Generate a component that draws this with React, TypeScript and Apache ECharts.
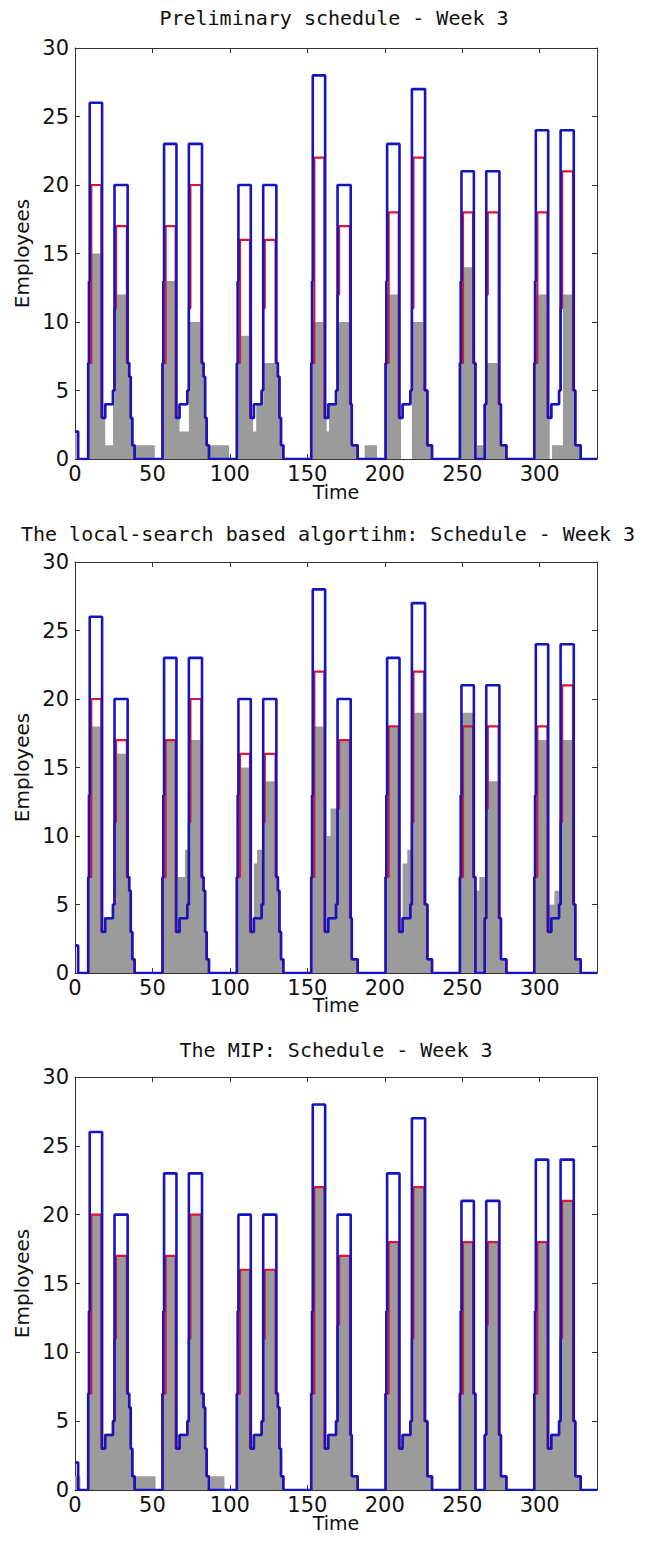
import React, { useEffect, useRef } from "react";
import * as echarts from "echarts";

const T_MAX = 337;
const Y_MAX = 30;
const panelTitles = [
  "Preliminary schedule - Week 3",
  "The local-search based algortihm: Schedule - Week 3",
  "The MIP: Schedule - Week 3",
];
const xName = "Time";
const yName = "Employees";

// step breakpoints [time, value]; value holds until next breakpoint
const upperBound: number[][] = [
  [0, 2], [2, 0],
  [8.5, 7], [9, 13], [9.5, 26], [17.5, 3], [19.5, 4], [24.5, 5], [25.5, 20], [34, 7], [35, 6], [36, 3], [37, 1], [38.5, 0],
  [56.5, 7], [57, 13], [57.5, 23], [65.5, 3], [67.5, 4], [72.5, 5], [73.5, 23], [82, 7], [83, 6], [84, 3], [85, 1], [86.5, 0],
  [104.5, 7], [105, 13], [105.5, 20], [113.5, 3], [115.5, 4], [120.5, 5], [121.5, 20], [130, 7], [131, 6], [132, 3], [133, 1], [134.5, 0],
  [152.5, 7], [153, 13], [153.5, 28], [161.5, 3], [163.5, 4], [168.5, 5], [169.5, 20], [178, 4], [178.7, 1], [182.5, 0],
  [200.5, 7], [201, 13], [201.5, 23], [209.5, 3], [211.5, 4], [216.5, 5], [217.5, 27], [226, 5], [227.5, 1], [230.5, 0],
  [248.5, 7], [249, 13], [249.5, 21], [257.5, 7], [258.5, 0], [264.5, 4], [265.5, 21], [274, 4], [275, 1], [278.5, 0],
  [296.5, 7], [297, 13], [297.5, 24], [305.5, 3], [307.5, 4], [312.5, 5], [313.5, 24], [322, 5], [323, 1], [326.5, 0],
];

const demand: number[][] = [
  [0, 2], [2, 0],
  [8.5, 7], [10.5, 20], [17, 3], [19.5, 4], [24.5, 5], [25.5, 11], [26.5, 17], [33.5, 7], [35, 6], [36, 3], [37, 1], [38.5, 0],
  [56.5, 7], [58.5, 17], [65, 3], [67.5, 4], [72.5, 5], [73.5, 11], [74.5, 20], [81.5, 7], [83, 6], [84, 3], [85, 1], [86.5, 0],
  [104.5, 7], [106.5, 16], [113, 3], [115.5, 4], [120.5, 5], [121.5, 11], [122.5, 16], [129.5, 7], [131, 6], [132, 3], [133, 1], [134.5, 0],
  [152.5, 7], [154.5, 22], [161, 3], [163.5, 4], [168.5, 5], [169.5, 12], [170.5, 17], [177.5, 4], [178.7, 1], [182.5, 0],
  [200.5, 7], [202.5, 18], [209, 3], [211.5, 4], [216.5, 5], [217.5, 11], [218.5, 22], [225.5, 5], [227.5, 1], [230.5, 0],
  [248.5, 7], [250.5, 18], [257, 7], [258.5, 0], [264.5, 4], [265.5, 12], [266.5, 18], [273.5, 4], [275, 1], [278.5, 0],
  [296.5, 7], [298.5, 18], [305, 3], [307.5, 4], [312.5, 5], [313.5, 11], [314.5, 21], [321.5, 5], [323, 1], [326.5, 0],
];

const staffPreliminary: number[][] = [
  [0, 2], [1, 0],
  [8.5, 7], [9, 13], [9.5, 15], [17.5, 3], [19.5, 1], [24.5, 4], [25.5, 12], [34, 7], [35, 6], [36, 3], [37, 1], [51.5, 0],
  [56.5, 7], [57, 13], [65.5, 3], [67.5, 2], [73.5, 10], [82, 7], [83, 6], [84, 3], [85, 1], [99.5, 0],
  [104.5, 7], [105, 12], [105.5, 9], [113.5, 3], [115, 2], [117, 4], [121.5, 7], [131, 6], [132, 3], [133, 1], [134.5, 0],
  [152.5, 7], [153, 13], [153.5, 10], [161.5, 3], [162.5, 2], [164, 4], [169.5, 10], [178, 4], [178.7, 1], [182.5, 0], [187, 1], [195, 0],
  [200.5, 7], [201, 12], [209.5, 3], [210.5, 0], [217.5, 10], [226, 5], [227.5, 1], [230.5, 0],
  [248.5, 7], [249, 13], [249.5, 14], [257.5, 7], [258.5, 0], [259.5, 1], [263.8, 0], [264.5, 4], [265.5, 7], [274, 4], [275, 1], [278.5, 0],
  [296.5, 7], [297, 12], [305.5, 3], [306.5, 0], [308, 1], [315, 12], [322, 5], [323, 1], [326.5, 0],
];

const staffLocalSearch: number[][] = [
  [0, 0],
  [8.5, 7], [9, 13], [9.5, 18], [17.5, 3], [19.5, 4], [24.5, 5], [25.5, 16], [34, 7], [35, 6], [36, 3], [37, 1], [38.5, 0],
  [56.5, 7], [57, 13], [57.5, 17], [65.5, 3], [66.5, 7], [71, 9], [73.5, 17], [82, 7], [83, 6], [84, 3], [85, 1], [86.5, 0],
  [104.5, 7], [105, 13], [105.5, 15], [113.5, 3], [115.5, 8], [117.5, 9], [121.5, 14], [130, 7], [131, 6], [132, 3], [133, 1], [134.5, 0],
  [152.5, 7], [153, 13], [153.5, 18], [161.5, 3], [162.5, 10], [165, 12], [169.5, 17], [178, 4], [178.7, 1], [182.5, 0],
  [200.5, 7], [201, 13], [201.5, 18], [209.5, 3], [211.5, 8], [214.5, 9], [217.5, 19], [226, 5], [227.5, 1], [230.5, 0],
  [248.5, 7], [249, 13], [249.5, 19], [257.5, 7], [258, 6], [261, 7], [265.5, 14], [274, 4], [275, 1], [278.5, 0],
  [296.5, 7], [297, 13], [297.5, 17], [305.5, 3], [306, 5], [309.5, 6], [313.5, 17], [322, 5], [323, 1], [326.5, 0],
];

const staffMIP: number[][] = [
  [0, 1], [3.5, 0],
  [8.5, 7], [9, 13], [10, 20], [17.5, 3], [19.5, 4], [24.5, 5], [25.5, 11], [26.5, 17], [34, 7], [35, 6], [36, 3], [37, 1], [52, 0],
  [56.5, 7], [57, 13], [58, 17], [65.5, 3], [67.5, 4], [72.5, 5], [73.5, 11], [74.5, 20], [82, 7], [83, 6], [84, 3], [85, 1], [86.5, 0], [87.5, 1], [96.5, 0],
  [104.5, 7], [105, 13], [106, 16], [113.5, 3], [115.5, 4], [120.5, 5], [121.5, 11], [122.5, 16], [130, 7], [131, 6], [132, 3], [133, 1], [134.5, 0],
  [152.5, 7], [153, 13], [154, 22], [161.5, 3], [163.5, 4], [168.5, 5], [169.5, 12], [170.5, 17], [178, 4], [178.7, 1], [182.5, 0],
  [200.5, 7], [201, 13], [202, 18], [209.5, 3], [211.5, 4], [216.5, 5], [217.5, 11], [218.5, 22], [226, 5], [227.5, 1], [230.5, 0],
  [248.5, 7], [249, 13], [250, 18], [257.5, 7], [258.5, 0], [264.5, 4], [265.5, 12], [266.5, 18], [274, 4], [275, 1], [278.5, 0],
  [296.5, 7], [297, 13], [298, 18], [305.5, 3], [307.5, 4], [312.5, 5], [313.5, 11], [314.5, 21], [322, 5], [323, 1], [326.5, 0],
];

const staffSets = [staffPreliminary, staffLocalSearch, staffMIP];

function toSteps(bps: number[][]): number[][] {
  const pts: number[][] = [];
  for (let i = 0; i < bps.length; i++) {
    const t = bps[i][0];
    const v = bps[i][1];
    const tNext = i + 1 < bps.length ? bps[i + 1][0] : T_MAX;
    pts.push([t, v], [tNext, v]);
  }
  return pts;
}

const GRIDS = [
  { top: 48, height: 411, titleY: 18, titleX: 334, nameY: 492 },
  { top: 562, height: 411, titleY: 534, titleX: 328, nameY: 1005 },
  { top: 1077, height: 413, titleY: 1050, titleX: 336, nameY: 1523 },
];
const LEFT = 75;
const WIDTH = 522;

export default function App() {
  const ref = useRef<HTMLDivElement>(null);
  useEffect(() => {
    if (!ref.current) return;
    const chart = echarts.init(ref.current, undefined, { renderer: "svg" });
    const axisColor = "#333";
    const grid: any[] = [];
    const xAxis: any[] = [];
    const yAxis: any[] = [];
    const series: any[] = [];
    const graphic: any[] = [];
    GRIDS.forEach((g, i) => {
      grid.push({ left: LEFT, top: g.top, width: WIDTH, height: g.height, containLabel: false });
      const common = {
        gridIndex: i,
        type: "value",
        splitLine: { show: false },
        axisLine: { show: true, onZero: false, lineStyle: { color: axisColor, width: 1 } },
        axisTick: { show: true, inside: true, length: 5, lineStyle: { color: axisColor } },
      };
      xAxis.push({
        ...common,
        position: "bottom",
        min: 0,
        max: T_MAX,
        interval: 50,
        axisLabel: {
          show: true,
          fontSize: 21,
          fontFamily: "DejaVu Sans",
          color: "#111",
          margin: 4,
          showMaxLabel: false,
          formatter: (v: number) => (v % 50 === 0 ? String(v) : ""),
        },
      });
      xAxis.push({
        ...common,
        position: "top",
        min: 0,
        max: T_MAX,
        interval: 50,
        axisLabel: { show: false },
      });
      yAxis.push({
        ...common,
        position: "left",
        min: 0,
        max: Y_MAX,
        interval: 5,
        axisLabel: { show: true, fontSize: 21, fontFamily: "DejaVu Sans", color: "#111", margin: 6 },
      });
      yAxis.push({
        ...common,
        position: "right",
        min: 0,
        max: Y_MAX,
        interval: 5,
        axisLabel: { show: false },
      });
      const xi = i * 2;
      const yi = i * 2;
      series.push({
        type: "line",
        xAxisIndex: xi,
        yAxisIndex: yi,
        data: toSteps(staffSets[i]),
        showSymbol: false,
        lineStyle: { width: 0 },
        areaStyle: { color: "#9b9b9b", opacity: 1 },
        z: 2,
      });
      series.push({
        type: "line",
        xAxisIndex: xi,
        yAxisIndex: yi,
        data: toSteps(demand),
        showSymbol: false,
        lineStyle: { width: 2.2, color: "#e0142c" },
        itemStyle: { color: "#e0142c" },
        z: 3,
      });
      series.push({
        type: "line",
        xAxisIndex: xi,
        yAxisIndex: yi,
        data: toSteps(upperBound),
        showSymbol: false,
        lineStyle: { width: 2.6, color: "#1414c0" },
        itemStyle: { color: "#1414c0" },
        z: 4,
      });
      graphic.push({
        type: "text",
        x: g.titleX,
        y: g.titleY,
        style: {
          text: panelTitles[i],
          font: '20px "DejaVu Sans Mono"',
          fill: "#111",
          textAlign: "center",
          textVerticalAlign: "middle",
        },
      });
      graphic.push({
        type: "text",
        x: LEFT + WIDTH / 2,
        y: g.nameY,
        style: {
          text: xName,
          font: '19px "DejaVu Sans"',
          fill: "#111",
          textAlign: "center",
          textVerticalAlign: "middle",
        },
      });
      graphic.push({
        type: "text",
        x: 22,
        y: g.top + g.height / 2,
        rotation: Math.PI / 2,
        style: {
          text: yName,
          font: '20px "DejaVu Sans"',
          fill: "#111",
          textAlign: "center",
          textVerticalAlign: "middle",
        },
      });
    });
    chart.setOption({
      animation: false,
      backgroundColor: "#ffffff",
      grid,
      xAxis,
      yAxis,
      series,
      graphic,
    });
    return () => chart.dispose();
  }, []);
  return (
    <div
      ref={ref}
      style={{ position: "absolute", left: 0, top: 0, width: 648, height: 1546, background: "#fff" }}
    />
  );
}
